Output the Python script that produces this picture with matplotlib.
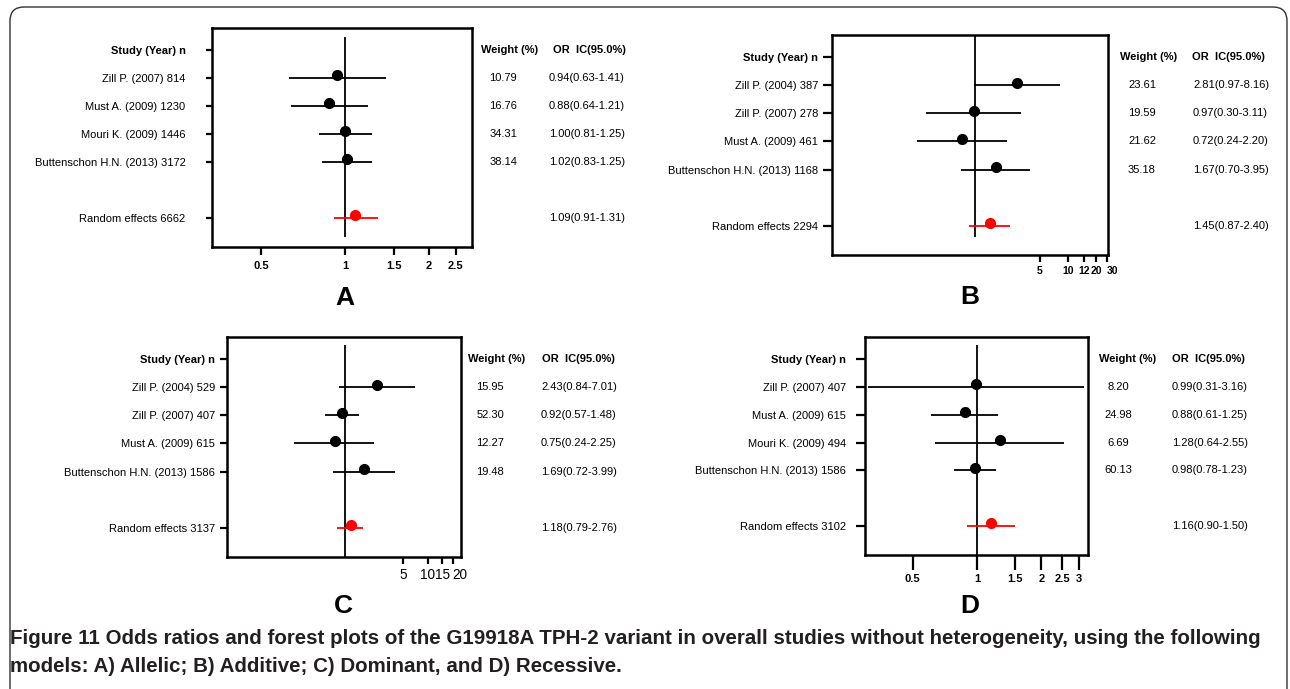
import matplotlib
matplotlib.use("Agg")
import matplotlib.pyplot as plt
from matplotlib.patches import FancyBboxPatch
from matplotlib.ticker import NullLocator
from matplotlib.transforms import blended_transform_factory

# --------------------------------------------------------------------------- #
# Data
# --------------------------------------------------------------------------- #
HEADER = "Study (Year) n"

studies_a = ["Zill P. (2007) 814", "Must A. (2009) 1230",
             "Mouri K. (2009) 1446", "Buttenschon H.N. (2013) 3172"]
or_a = [0.94, 0.88, 1.00, 1.02]
lo_a = [0.63, 0.64, 0.81, 0.83]
hi_a = [1.41, 1.21, 1.25, 1.25]
weight_a = ["10.79", "16.76", "34.31", "38.14"]
ortext_a = ["0.94(0.63-1.41)", "0.88(0.64-1.21)", "1.00(0.81-1.25)", "1.02(0.83-1.25)"]
pooled_name_a = "Random effects 6662"
pooled_a = (1.09, 0.91, 1.31)
pooled_text_a = "1.09(0.91-1.31)"

studies_b = ["Zill P. (2004) 387", "Zill P. (2007) 278",
             "Must A. (2009) 461", "Buttenschon H.N. (2013) 1168"]
or_b = [2.81, 0.97, 0.72, 1.67]
lo_b = [0.97, 0.30, 0.24, 0.70]
hi_b = [8.16, 3.11, 2.20, 3.95]
weight_b = ["23.61", "19.59", "21.62", "35.18"]
ortext_b = ["2.81(0.97-8.16)", "0.97(0.30-3.11)", "0.72(0.24-2.20)", "1.67(0.70-3.95)"]
pooled_name_b = "Random effects 2294"
pooled_b = (1.45, 0.87, 2.40)
pooled_text_b = "1.45(0.87-2.40)"

studies_c = ["Zill P. (2004) 529", "Zill P. (2007) 407",
             "Must A. (2009) 615", "Buttenschon H.N. (2013) 1586"]
or_c = [2.43, 0.92, 0.75, 1.69]
lo_c = [0.84, 0.57, 0.24, 0.72]
hi_c = [7.01, 1.48, 2.25, 3.99]
weight_c = ["15.95", "52.30", "12.27", "19.48"]
ortext_c = ["2.43(0.84-7.01)", "0.92(0.57-1.48)", "0.75(0.24-2.25)", "1.69(0.72-3.99)"]
pooled_name_c = "Random effects 3137"
pooled_c = (1.18, 0.79, 1.65)          # drawn bar is shorter than the printed CI
pooled_text_c = "1.18(0.79-2.76)"

studies_d = ["Zill P. (2007) 407", "Must A. (2009) 615",
             "Mouri K. (2009) 494", "Buttenschon H.N. (2013) 1586"]
or_d = [0.99, 0.88, 1.28, 0.98]
lo_d = [0.31, 0.61, 0.64, 0.78]
hi_d = [3.16, 1.25, 2.55, 1.23]
weight_d = ["8.20", "24.98", "6.69", "60.13"]
ortext_d = ["0.99(0.31-3.16)", "0.88(0.61-1.25)", "1.28(0.64-2.55)", "0.98(0.78-1.23)"]
pooled_name_d = "Random effects 3102"
pooled_d = (1.16, 0.90, 1.50)
pooled_text_d = "1.16(0.90-1.50)"

xticks_a = [0.5, 1, 1.5, 2, 2.5]
xticklabels_a = ["0.5", "1", "1.5", "2", "2.5"]
xticks_b = [5, 10, 15, 20, 26.5]
xticklabels_b = ["5", "10", "12", "20", "30"]
xticks_c = [5, 10, 15, 20]
xticklabels_c = ["5", "10", "15", "20"]
xticks_d = [0.5, 1, 1.5, 2, 2.5, 3]
xticklabels_d = ["0.5", "1", "1.5", "2", "2.5", "3"]

CAPTION_1 = ("Figure 11 Odds ratios and forest plots of the G19918A TPH-2 variant in "
             "overall studies without heterogeneity, using the following")
CAPTION_2 = "models: A) Allelic; B) Additive; C) Dominant, and D) Recessive."

# --------------------------------------------------------------------------- #
# Style / layout
# --------------------------------------------------------------------------- #
W, H = 1290, 689
ROWS = [1, 2, 3, 4]
POOLED_ROW = 6
DOT_LIFT = 0.1

plt.rcParams.update({
    "font.family": ["Liberation Sans", "DejaVu Sans"],
    "font.size": 8,
})

fig = plt.figure(figsize=(W / 100, H / 100), dpi=100)


def px_box(l, t, r, b):
    return [l / W, 1 - b / H, (r - l) / W, (b - t) / H]


def forest(box, studies, orv, lo, hi, pooled_name, pooled, xlim, xticks, xticklabels,
           weights, ortexts, pooled_text, cols, ref_span, ytick=(4, 15), xtick=(6, 3),
           xfont=None, last_left=False):
    ax = fig.add_axes(px_box(*box))
    ax.set_xscale("log")
    ax.set_xlim(*xlim)
    ax.set_ylim(7.05, -0.8)
    ax.xaxis.set_minor_locator(NullLocator())

    ax.vlines(1, ref_span[0], ref_span[1], color="black", lw=1.3)
    ax.hlines(ROWS, lo, hi, color="black", lw=1.3)
    ax.plot(orv, [r - DOT_LIFT for r in ROWS], "o", color="black", ms=7)
    ax.hlines(POOLED_ROW, pooled[1], pooled[2], color="#ff0000", lw=1.3)
    ax.plot(pooled[0], POOLED_ROW - DOT_LIFT, "o", color="#ff0000", ms=7)

    ax.set_yticks([0] + ROWS + [POOLED_ROW])
    ax.set_yticklabels([HEADER] + studies + [pooled_name])
    ax.get_yticklabels()[0].set_fontweight("bold")
    ax.set_xticks(xticks)
    ax.set_xticklabels(xticklabels)
    if xfont is None:
        xfont = dict(fontsize=8, fontweight="bold")
    labels = ax.get_xticklabels()
    for t in labels:
        t.set(**xfont)
    if last_left:
        labels[-1].set_horizontalalignment("left")
        labels[-1].set_x(xticks[-1])

    ax.tick_params(axis="y", length=ytick[0], width=1.6, pad=ytick[1])
    ax.tick_params(axis="x", length=xtick[0], width=1.6, pad=xtick[1])
    for s in ax.spines.values():
        s.set_linewidth(1.8)

    trans = blended_transform_factory(fig.transFigure, ax.transData)
    wh, wc, oh, ol = cols
    ax.text(wh / W, 0, "Weight (%)", transform=trans, fontweight="bold",
            va="center", ha="left")
    ax.text(oh / W, 0, "OR  IC(95.0%)", transform=trans, fontweight="bold",
            va="center", ha="left")
    for r, w, o in zip(ROWS, weights, ortexts):
        ax.text(wc / W, r, w, transform=trans, va="center", ha="center")
        ax.text(ol / W, r, o, transform=trans, va="center", ha="left")
    ax.text(ol / W, POOLED_ROW, pooled_text, transform=trans, va="center", ha="left")
    return ax


forest((212, 28, 472, 247), studies_a, or_a, lo_a, hi_a, pooled_name_a, pooled_a,
       (0.333, 2.86), xticks_a, xticklabels_a, weight_a, ortext_a, pooled_text_a,
       cols=(481, 503, 553, 549), ref_span=(-0.46, 6.7), ytick=(4, 15), xtick=(6, 4))

forest((832, 35, 1108, 255), studies_b, or_b, lo_b, hi_b, pooled_name_b, pooled_b,
       (0.029, 27.0), xticks_b, xticklabels_b, weight_b, ortext_b, pooled_text_b,
       cols=(1120, 1142, 1192, 1193), ref_span=(-0.8, 6.4), ytick=(6.5, 3.5), xtick=(5, 3),
       xfont=dict(fontsize=7.5, fontweight="bold"), last_left=True)

forest((227, 337, 461, 557), studies_c, or_c, lo_c, hi_c, pooled_name_c, pooled_c,
       (0.0377, 25.1), xticks_c, xticklabels_c, weight_c, ortext_c, pooled_text_c,
       cols=(468, 490, 542, 541), ref_span=(-0.5, 7.05), ytick=(5, 3.5), xtick=(5, 3),
       xfont=dict(fontsize=9.8, fontweight="normal"), last_left=True)

forest((865, 337, 1088, 555), studies_d, or_d, lo_d, hi_d, pooled_name_d, pooled_d,
       (0.30, 3.30), xticks_d, xticklabels_d, weight_d, ortext_d, pooled_text_d,
       cols=(1099, 1118, 1172, 1172), ref_span=(-0.5, 7.05), ytick=(6.5, 7), xtick=(11, 3))

# panel letters
for letter, (x, y) in zip("ABCD", [(345, 298), (970, 297), (343, 606), (970, 606)]):
    fig.text(x / W, 1 - y / H, letter, fontsize=19, fontweight="bold",
             ha="center", va="center")

# caption
fig.text(10 / W, 1 - 638 / H, CAPTION_1, fontsize=14.8,
         fontweight="bold", color="#231f20", va="center", ha="left")
fig.text(10 / W, 1 - 667 / H, CAPTION_2, fontsize=14.8,
         fontweight="bold", color="#231f20", va="center", ha="left")

# rounded outer frame
frame = FancyBboxPatch((0.10, -0.3), 12.77, 7.12,
                       boxstyle="round,pad=0,rounding_size=0.14",
                       transform=fig.dpi_scale_trans, fill=False,
                       edgecolor="#333333", linewidth=1.0)
fig.patches.append(frame)

fig.savefig("out.png", dpi=100)
